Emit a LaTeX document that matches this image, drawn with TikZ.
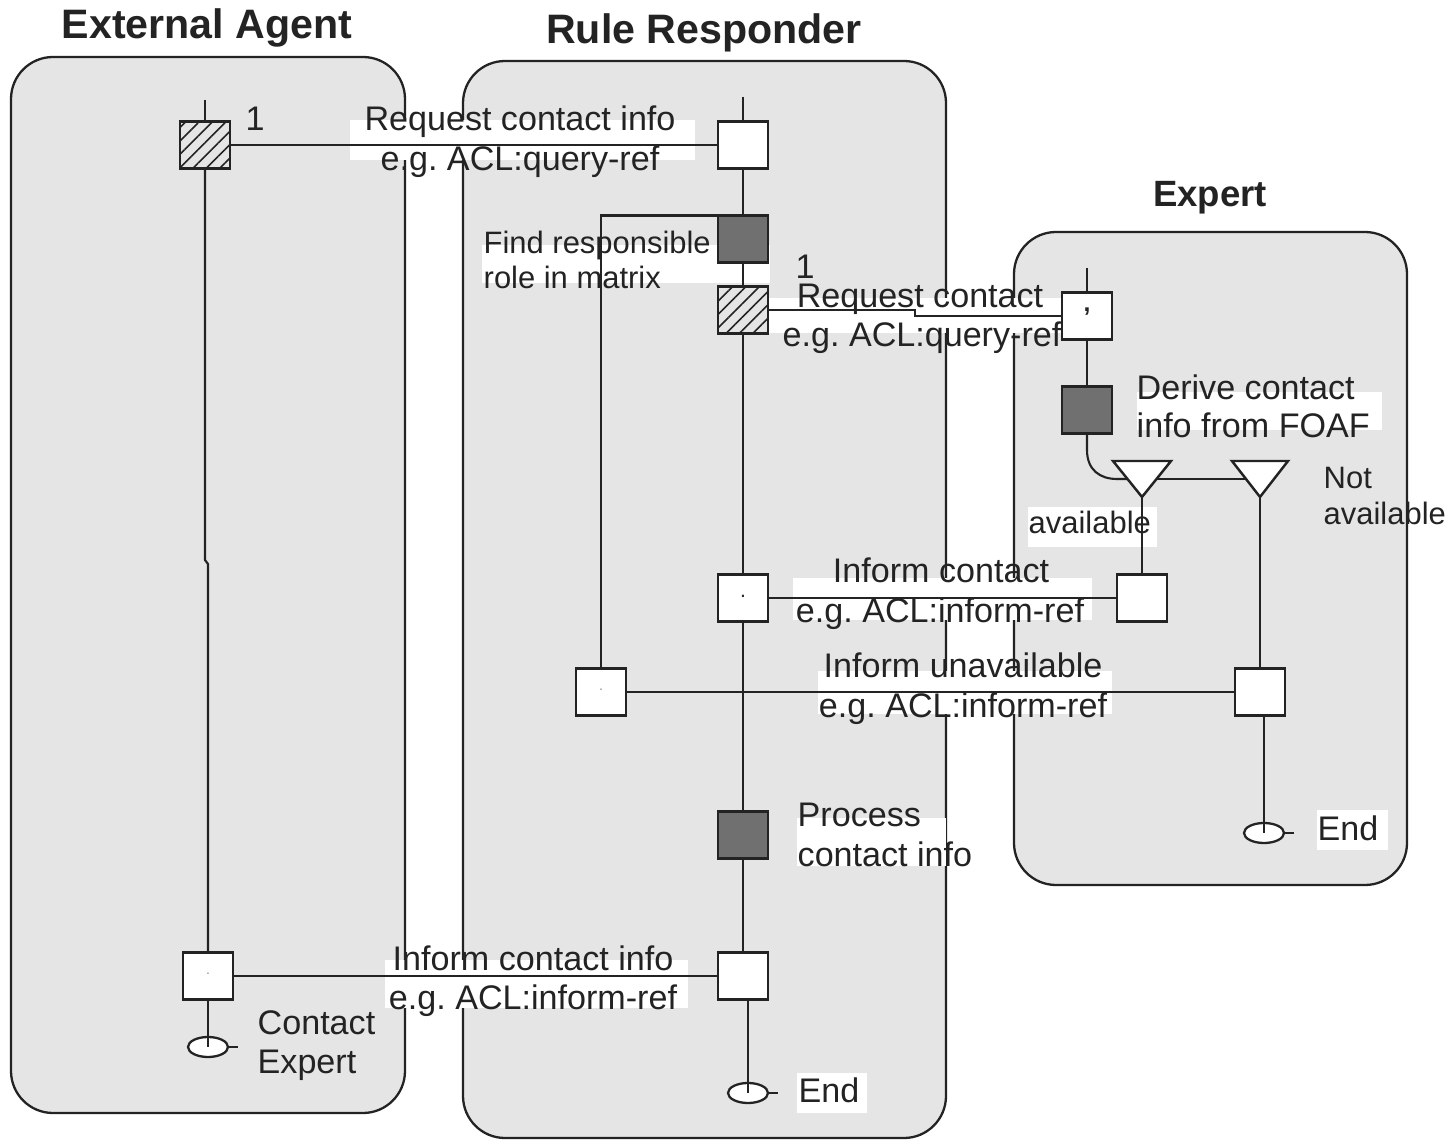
\documentclass[tikz,border=0pt]{standalone}
\usepackage{fontspec}
\setmainfont{Liberation Sans}
\frenchspacing
\usetikzlibrary{shapes.geometric,patterns,patterns.meta}
\definecolor{lanegray}{RGB}{229,229,229}
\definecolor{taskgray}{RGB}{112,112,112}
\definecolor{ink}{RGB}{35,35,35}
\pgfdeclarelayer{lanes}
\pgfdeclarelayer{patches}
\pgfsetlayers{lanes,patches,main}
\tikzset{
  lane/.style={draw=ink, fill=lanegray, line width=0.65pt, rounded corners=0.42cm},
  act/.style={draw=ink, line width=0.7pt, minimum width=0.5cm, minimum height=0.47cm,
              inner sep=0pt, outer sep=0pt},
  plainbox/.style={act, fill=white},
  taskbox/.style={act, fill=taskgray},
  sendbox/.style={act, preaction={fill=lanegray},
                  pattern={Lines[angle=45, distance=2.7pt, line width=0.45pt]}, pattern color=ink},
  endmark/.style={ellipse, draw=ink, fill=white, line width=0.65pt, minimum width=0.4cm,
                  minimum height=0.2cm, inner sep=0pt, outer sep=0pt},
  flow/.style={draw=ink, line width=0.6pt},
  lbl/.style={font=\fontsize{9.7}{11.6}\selectfont, text=ink, inner sep=0pt},
  small/.style={lbl, font=\fontsize{8.8}{10.5}\selectfont},
  ttl/.style={font=\fontsize{11.7}{14}\selectfont\bfseries, text=ink, inner sep=0pt},
  patch/.style={fill=white, draw=none}
}
\begin{document}
\begin{tikzpicture}[x=0.01cm, y=-0.01cm]
\useasboundingbox (0,0) rectangle (1451,1140);

% swimlanes
\begin{pgfonlayer}{lanes}
  \fill[white] (0,0) rectangle (1451,1140);
  \draw[lane] (11,57) rectangle (405,1113);
  \draw[lane] (463,61) rectangle (946,1138);
  \draw[lane] (1014,232) rectangle (1407,885);
\end{pgfonlayer}

% white backings behind the labels
\begin{pgfonlayer}{patches}
  \fill[patch] (350,120) rectangle (695,160);
  \fill[patch] (482,245) rectangle (770,283);
  \fill[patch] (768,298) rectangle (1062,333);
  \fill[patch] (1137,392) rectangle (1382,430);
  \fill[patch] (1028,507) rectangle (1157,547);
  \fill[patch] (793,578) rectangle (1092,620);
  \fill[patch] (818,671) rectangle (1112,714);
  \fill[patch] (797,818) rectangle (946,866);
  \fill[patch] (797,1073) rectangle (867,1113);
  \fill[patch] (1317,810) rectangle (1388,850);
  \fill[patch] (385,960) rectangle (688,1008);
\end{pgfonlayer}

% titles
\node[ttl, anchor=base] (tEA) at (207,39) {External Agent};
\node[ttl, anchor=base] (tRR) at (704,44) {Rule Responder};
\node[ttl, anchor=base, font=\fontsize{10.4}{12.5}\selectfont\bfseries] (tEX) at (1210,207) {Expert};

% External Agent activities
\node[sendbox] (ea1) at (205,145) {};
\node[plainbox] (ea2) at (208,976) {};
\node[endmark] (eaEnd) at (208,1047) {};
\coordinate (eaTop) at (205,100);

% Rule Responder activities
\node[plainbox] (rr1) at (743,145) {};
\node[taskbox]  (rr2) at (743,239) {};
\node[sendbox]  (rr3) at (743,310) {};
\node[plainbox] (rr4) at (743,598) {};
\node[plainbox] (rr5) at (601,692) {};
\node[taskbox]  (rr6) at (743,835) {};
\node[plainbox] (rr7) at (743,976) {};
\node[endmark]  (rrEnd) at (748,1093) {};
\coordinate (rrTop) at (743,97);

% Expert activities
\node[plainbox] (ex1) at (1087,316) {};
\node[taskbox]  (ex2) at (1087,410) {};
\node[plainbox] (ex3) at (1142,598) {};
\node[plainbox] (ex4) at (1260,692) {};
\node[endmark]  (exEnd) at (1264,833) {};
\coordinate (exTop) at (1087,268);

% decision triangles
\coordinate (t1a) at (1113,461);
\coordinate (t1b) at (1171,461);
\coordinate (t1tip) at (1142,497);
\coordinate (t1l) at (1127,479);
\coordinate (t1r) at (1156,479);
\coordinate (t2a) at (1232,461);
\coordinate (t2b) at (1288,461);
\coordinate (t2tip) at (1260,497);
\coordinate (t2l) at (1246,479);
\draw[flow, fill=white, line width=0.7pt, line join=miter] (t1a) -- (t1b) -- (t1tip) -- cycle;
\draw[flow, fill=white, line width=0.7pt, line join=miter] (t2a) -- (t2b) -- (t2tip) -- cycle;

% lifelines
\draw[flow] (eaTop) -- (ea1.north);
\draw[flow] (ea1.south) -- (205,560) -- (208,564) -- (ea2.north);
\draw[flow] (ea2.south) -- (eaEnd.center);
\draw[flow] (eaEnd.east) -- ++(10,0);

\draw[flow] (rrTop) -- (rr1.north);
\draw[flow] (rr1.south) -- (rr2.north);
\draw[flow] (rr2.south) -- (rr3.north);
\draw[flow] (rr3.south) -- (rr4.north);
\draw[flow] (rr4.south) -- (rr6.north);
\draw[flow] (rr6.south) -- (rr7.north);
\draw[flow] (rr7.south -| rrEnd) -- (rrEnd.center);
\draw[flow] (rrEnd.east) -- ++(10,0);
\draw[flow] (rr2.north west) -- (rr2.north west -| rr5) -- (rr5.north);

\draw[flow] (exTop) -- (ex1.north);
\draw[flow] (ex1.south) -- (ex2.north);
\draw[flow] (ex2.south) -- (1087,450) .. controls (1087,470) and (1100,479) .. (1117,479) -- (t1l);
\draw[flow] (t1r) -- (t2l);
\draw[flow] (t1tip) -- (ex3.north);
\draw[flow] (t2tip) -- (ex4.north);
\draw[flow] (ex4.south -| exEnd) -- (exEnd.center);
\draw[flow] (exEnd.east) -- ++(10,0);

% messages
\draw[flow] (ea1.east) -- (rr1.west);
\draw[flow] (rr3.east) -- (915,310) -- (915,316) -- (ex1.west);
\draw[flow] (rr4.east) -- (ex3.west);
\draw[flow] (rr5.east) -- (ex4.west);
\draw[flow] (ea2.east) -- (rr7.west);

% marks inside boxes
\node[lbl, font=\fontsize{7}{8}\selectfont\bfseries] (m1) at (1087,312) {,};
\node[lbl, font=\fontsize{6}{7}\selectfont] (m2) at (743,596) {.};
\node[lbl, font=\fontsize{4}{5}\selectfont, text=ink!50] (m3) at (601,690) {.};
\node[lbl, font=\fontsize{4}{5}\selectfont, text=ink!50] (m4) at (208,974) {.};

% labels
\node[lbl, anchor=base] (n1) at (255,131) {1};
\node[lbl, anchor=base] (q1a) at (520,131) {Request contact info};
\node[lbl, anchor=base] (q1b) at (520,171) {e.g. ACL:query-ref};
\node[small, anchor=base west] (f1) at (483,254) {Find responsible};
\node[small, anchor=base west] (f2) at (483,289) {role in matrix};
\node[lbl, anchor=base] (n2) at (805,279) {1};
\node[lbl, anchor=base] (q2a) at (920,308) {Request contact};
\node[lbl, anchor=base] (q2b) at (922,347) {e.g. ACL:query-ref};
\node[lbl, anchor=base west] (d1) at (1136,400) {Derive contact};
\node[lbl, anchor=base west] (d2) at (1136,438) {info from FOAF};
\node[small, anchor=base west] (av) at (1028,534) {available};
\node[small, anchor=base west] (na1) at (1323,489) {Not};
\node[small, anchor=base west] (na2) at (1323,525) {available};
\node[lbl, anchor=base] (i1a) at (941,583) {Inform contact};
\node[lbl, anchor=base] (i1b) at (940,623) {e.g. ACL:inform-ref};
\node[lbl, anchor=base] (i2a) at (963,678) {Inform unavailable};
\node[lbl, anchor=base] (i2b) at (963,718) {e.g. ACL:inform-ref};
\node[lbl, anchor=base west] (p1) at (797,826) {Process};
\node[lbl, anchor=base west] (p2) at (797,866) {contact info};
\node[lbl, anchor=base west] (e1) at (798,1102) {End};
\node[lbl, anchor=base west] (e2) at (1317,840) {End};
\node[lbl, anchor=base] (i3a) at (533,970) {Inform contact info};
\node[lbl, anchor=base] (i3b) at (533,1009) {e.g. ACL:inform-ref};
\node[lbl, anchor=base west] (c1) at (257,1034) {Contact};
\node[lbl, anchor=base west] (c2) at (257,1073) {Expert};
\end{tikzpicture}
\end{document}
